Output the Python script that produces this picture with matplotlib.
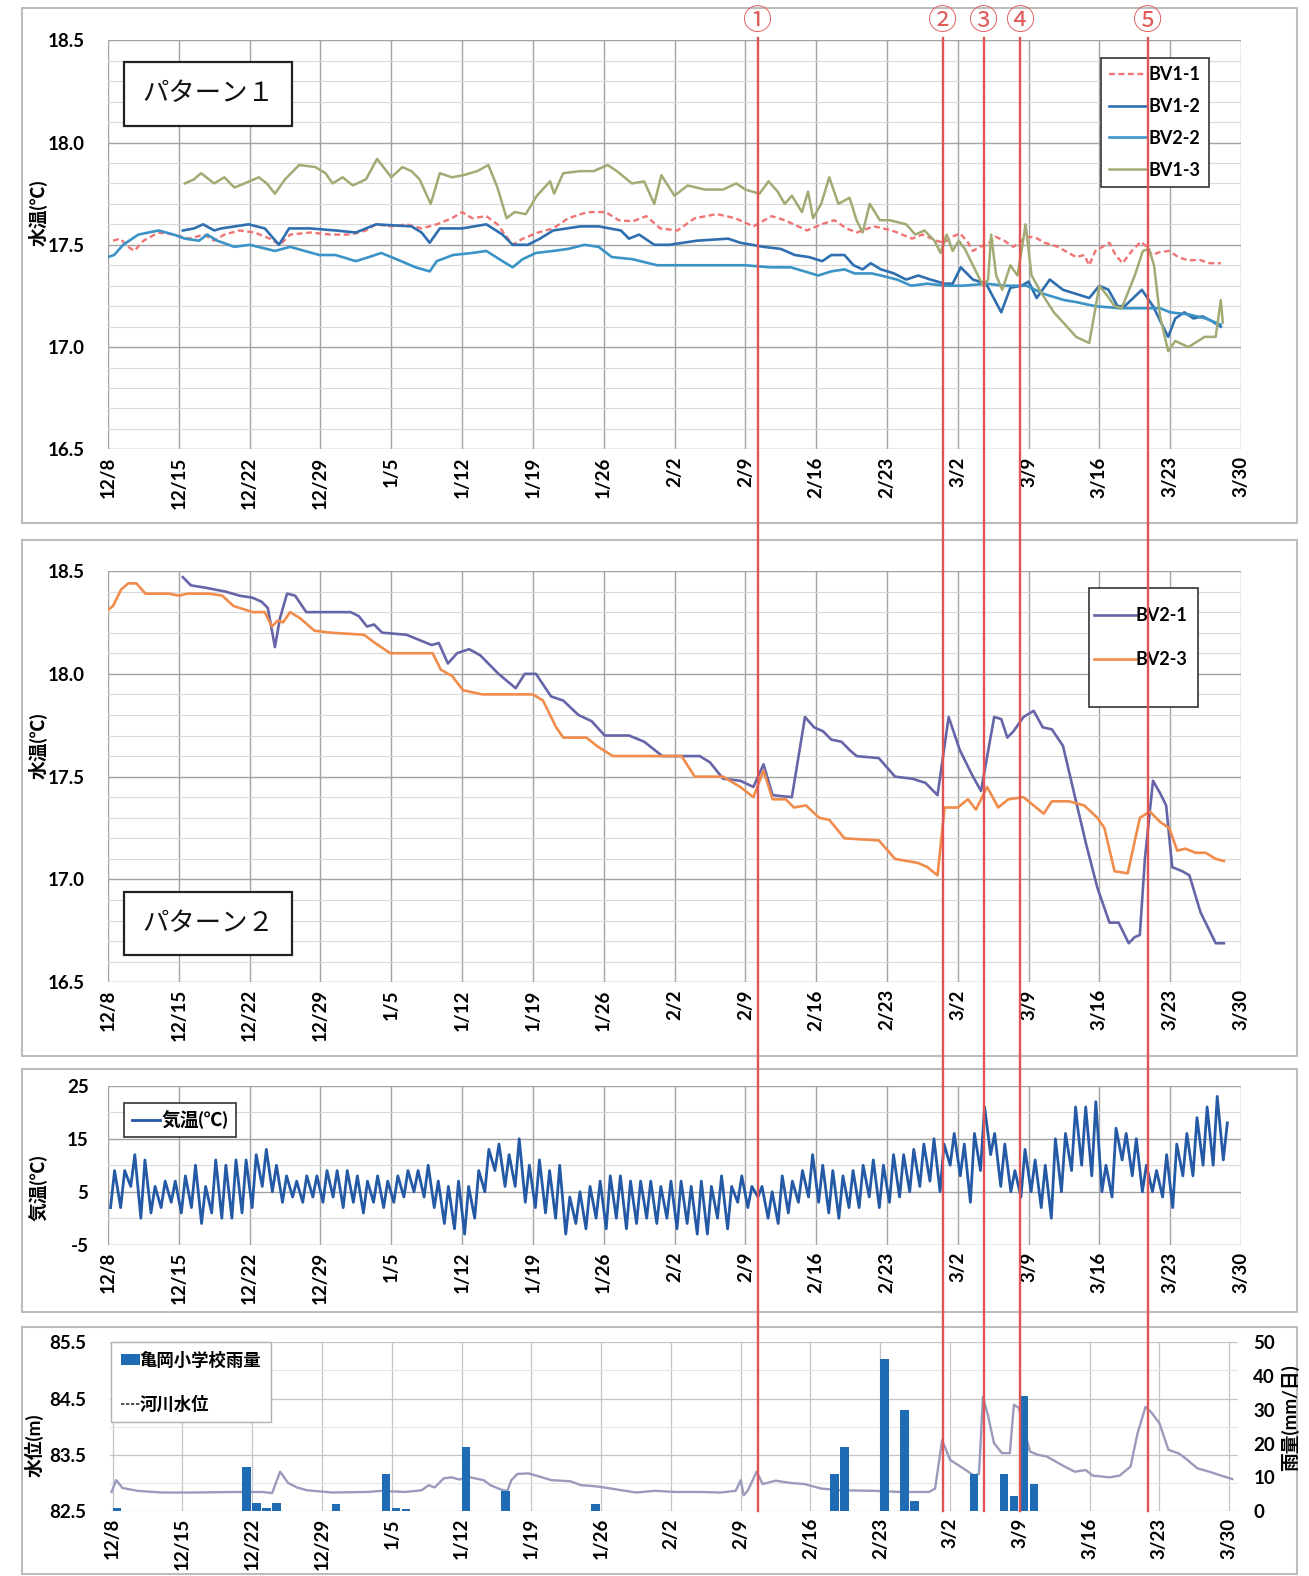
import numpy as np
import matplotlib
matplotlib.use('Agg')
import matplotlib.pyplot as plt
from matplotlib.patches import Rectangle, Patch
from matplotlib.lines import Line2D

plt.rcParams['font.family'] = ['Lato', 'Noto Sans CJK JP', 'DejaVu Sans']

# ---------------- data (x = days since 12/8) ----------------
date_labels = ['12/8', '12/15', '12/22', '12/29', '1/5', '1/12', '1/19', '1/26', '2/2',
               '2/9', '2/16', '2/23', '3/2', '3/9', '3/16', '3/23', '3/30']

bv11_days = [0.5, 1.2, 2.0, 2.6, 3.5, 5, 6.5, 8, 9.5, 10.5, 11.5, 13, 14.5, 16, 17, 18, 20, 22, 24,
             25.5, 26.5, 28, 29.5, 31, 32.5, 34, 35, 36, 37.4, 38.5, 40, 41, 42.5, 44, 45.5, 47.4,
             49.2, 50.5, 51.9, 53.2, 54.6, 56.3, 58, 60.2, 62, 63.8, 65.6, 66.9, 69.1, 70.5, 71.8,
             73, 74, 75.7, 77.5, 79.5, 80.5, 81.9, 82.6, 83.5, 84.2, 84.9, 85.5, 86.2, 87.3, 87.7,
             88.6, 89.5, 90.8, 91.7, 92.6, 93.9, 94.6, 95.7, 96.5, 97.0, 97.6, 98.3, 99.0, 99.6,
             100.3, 101.2, 102.1, 102.7, 103.2, 104.0, 104.9, 105.8, 106.7, 108.0, 108.9, 110.0]
bv11_vals = [17.52, 17.53, 17.49, 17.47, 17.52, 17.56, 17.55, 17.53, 17.55, 17.52, 17.55, 17.57,
             17.56, 17.53, 17.50, 17.55, 17.56, 17.55, 17.55, 17.57, 17.60, 17.59, 17.60, 17.58,
             17.60, 17.63, 17.66, 17.63, 17.64, 17.60, 17.50, 17.53, 17.56, 17.58, 17.63, 17.66,
             17.66, 17.62, 17.615, 17.64, 17.58, 17.57, 17.63, 17.65, 17.63, 17.59, 17.64, 17.62,
             17.57, 17.60, 17.62, 17.58, 17.56, 17.59, 17.57, 17.53, 17.55, 17.52, 17.51, 17.54,
             17.556, 17.52, 17.47, 17.49, 17.515, 17.54, 17.52, 17.49, 17.54, 17.535, 17.51, 17.49,
             17.47, 17.44, 17.45, 17.40, 17.47, 17.49, 17.51, 17.45, 17.41, 17.47, 17.515, 17.49,
             17.45, 17.465, 17.47, 17.44, 17.425, 17.425, 17.41, 17.41]

bv12_days = [7.4, 8.5, 9.4, 10.5, 11.2, 13.9, 15.5, 16.9, 17.9, 20, 22.5, 24.5, 25.5, 26.5, 30, 31,
             31.8, 32.8, 35, 37.4, 39, 40, 41.5, 42.7, 44, 46.7, 48.5, 50.7, 51.5, 52.5, 54, 55.5,
             58.2, 61.3, 62.5, 64.8, 66.5, 67.9, 69.3, 70.6, 71.5, 72.8, 73.7, 74.6, 75.4, 76.4,
             77.7, 78.9, 80.1, 81.3, 82.7, 83.5, 84.3, 85.5, 86.8, 88.3, 89.2, 90.3, 91.0, 91.8,
             93.1, 94.4, 95.7, 97.0, 98.0, 98.9, 99.8, 100.5, 102.2, 103.3, 104.8, 105.5, 106.4,
             107.3, 108.2, 109.0, 110.0]
bv12_vals = [17.57, 17.58, 17.60, 17.57, 17.58, 17.60, 17.58, 17.50, 17.58, 17.58, 17.57, 17.56,
             17.58, 17.60, 17.59, 17.56, 17.51, 17.58, 17.58, 17.60, 17.55, 17.50, 17.50, 17.53,
             17.57, 17.59, 17.59, 17.57, 17.53, 17.55, 17.50, 17.50, 17.52, 17.53, 17.51, 17.49,
             17.48, 17.45, 17.44, 17.42, 17.45, 17.45, 17.40, 17.38, 17.41, 17.38, 17.36, 17.33,
             17.35, 17.33, 17.31, 17.31, 17.39, 17.33, 17.31, 17.17, 17.29, 17.30, 17.32, 17.24,
             17.33, 17.28, 17.26, 17.24, 17.30, 17.28, 17.20, 17.20, 17.28, 17.20, 17.05, 17.14,
             17.17, 17.14, 17.15, 17.13, 17.10]

bv22_days = [0.0, 0.6, 1.5, 3.0, 5.0, 6.5, 7.6, 9, 9.8, 10.8, 12.5, 14, 16.5, 18, 20.9, 22.5, 24.5,
             25.8, 27, 28.5, 30.4, 31.8, 32.5, 34.1, 36, 37.4, 39, 40, 41, 42.3, 44, 45.5, 47.1, 48.5,
             49.8, 51.8, 54.3, 57, 60, 63, 65.5, 67.5, 70.2, 71.5, 72.8, 73.8, 75.5, 76.4, 78, 79.4,
             81, 82.7, 84.5, 86.9, 88.6, 90.8, 92.5, 94.5, 95.7, 97.6, 100, 102, 104, 105, 106.8,
             108.5, 110.0]
bv22_vals = [17.44, 17.45, 17.50, 17.55, 17.57, 17.55, 17.53, 17.52, 17.55, 17.52, 17.49, 17.50,
             17.47, 17.49, 17.45, 17.45, 17.42, 17.44, 17.46, 17.43, 17.39, 17.37, 17.42, 17.45,
             17.46, 17.47, 17.42, 17.39, 17.43, 17.46, 17.47, 17.48, 17.50, 17.49, 17.44, 17.43,
             17.40, 17.40, 17.40, 17.40, 17.39, 17.39, 17.35, 17.37, 17.38, 17.36, 17.36, 17.35,
             17.33, 17.30, 17.31, 17.30, 17.30, 17.31, 17.30, 17.30, 17.26, 17.23, 17.22, 17.20,
             17.19, 17.19, 17.19, 17.17, 17.16, 17.14, 17.11]

bv13_days = [7.6, 8.5, 9.2, 10.5, 11.5, 12.5, 13.5, 14.9, 15.7, 16.5, 17.5, 18.9, 20.5, 21.5, 22.2,
             23.2, 24.2, 25.5, 26.6, 28, 29.1, 30.0, 30.8, 31.9, 32.8, 34, 35.1, 36.5, 37.6, 38.5,
             39.4, 40.2, 41.3, 42.4, 43.7, 44.1, 45, 46.7, 48, 49.4, 50.3, 51.8, 53, 54, 54.7, 56,
             57.3, 59, 60.8, 62.1, 63, 64.4, 65.3, 66.2, 66.9, 67.6, 68.6, 69.2, 69.7, 70.5, 71.3,
             72.2, 73.3, 74.0, 74.6, 75.3, 76.3, 77.3, 78.9, 79.8, 80.7, 81.7, 82.3, 82.9, 83.5,
             84.1, 84.7, 85.5, 86.5, 87.0, 87.3, 87.8, 88.4, 89.2, 89.9, 90.4, 90.7, 91.3, 92.2,
             93.5, 94.8, 95.7, 97.0, 98.0, 98.8, 99.5, 100.2, 101.5, 102.3, 102.9, 103.4, 104.0,
             104.8, 105.5, 106.8, 108.4, 109.5, 110.0, 110.2]
bv13_vals = [17.80, 17.82, 17.85, 17.80, 17.83, 17.78, 17.80, 17.83, 17.80, 17.75, 17.82, 17.89,
             17.88, 17.85, 17.80, 17.83, 17.79, 17.82, 17.92, 17.83, 17.88, 17.86, 17.82, 17.70,
             17.85, 17.83, 17.84, 17.86, 17.89, 17.78, 17.63, 17.66, 17.65, 17.74, 17.81, 17.75,
             17.85, 17.86, 17.86, 17.89, 17.86, 17.80, 17.81, 17.70, 17.84, 17.74, 17.79, 17.77,
             17.77, 17.80, 17.77, 17.75, 17.81, 17.76, 17.70, 17.74, 17.66, 17.76, 17.63, 17.70,
             17.83, 17.70, 17.73, 17.62, 17.56, 17.70, 17.62, 17.62, 17.60, 17.55, 17.57, 17.52,
             17.46, 17.55, 17.47, 17.52, 17.48, 17.40, 17.30, 17.33, 17.55, 17.35, 17.28, 17.40,
             17.35, 17.50, 17.60, 17.35, 17.27, 17.17, 17.10, 17.05, 17.02, 17.30, 17.25, 17.20,
             17.19, 17.35, 17.47, 17.48, 17.40, 17.15, 16.98, 17.03, 17.00, 17.05, 17.05, 17.23,
             17.12]

bv21_days = [7.4, 8.2, 9.5, 11.6, 13, 14.3, 15.2, 15.8, 16.5, 17.0, 17.7, 18.5, 19.6, 21, 24, 24.8,
             25.6, 26.3, 27.1, 29.5, 31, 32, 32.7, 33.6, 34.5, 35.7, 36.8, 38.6, 40.3, 41.2, 42.3,
             43.8, 45, 46.5, 47.8, 49.1, 51.5, 53, 54.8, 56.5, 58.5, 59.5, 60.8, 62.5, 63.8, 64.8,
             65.7, 67.6, 68.9, 69.8, 70.7, 71.5, 72.5, 73.3, 74, 76.2, 77.8, 79.5, 80.8, 82.0, 83.1,
             84.2, 85.4, 86.3, 87.6, 88.3, 88.9, 89.5, 90.5, 91.5, 92.4, 93.3, 94.4, 95.5, 96.7,
             97.8, 99.0, 99.9, 100.9, 101.5, 102.0, 102.5, 103.3, 104.0, 104.6, 105.2, 106.2, 106.9,
             108.0, 109.5, 110.3]
bv21_vals = [18.47, 18.43, 18.42, 18.40, 18.38, 18.37, 18.35, 18.32, 18.13, 18.27, 18.39, 18.38,
             18.30, 18.30, 18.30, 18.28, 18.23, 18.24, 18.20, 18.19, 18.16, 18.14, 18.15, 18.05,
             18.10, 18.12, 18.09, 18.00, 17.93, 18.00, 18.00, 17.89, 17.87, 17.80, 17.77, 17.70,
             17.70, 17.67, 17.60, 17.60, 17.60, 17.57, 17.49, 17.48, 17.45, 17.56, 17.41, 17.40,
             17.79, 17.74, 17.72, 17.68, 17.67, 17.63, 17.60, 17.59, 17.50, 17.49, 17.47, 17.41,
             17.79, 17.63, 17.51, 17.43, 17.79, 17.78, 17.69, 17.72, 17.79, 17.82, 17.74, 17.73,
             17.65, 17.42, 17.17, 16.96, 16.79, 16.79, 16.69, 16.72, 16.73, 17.10, 17.48, 17.42,
             17.36, 17.06, 17.04, 17.02, 16.84, 16.69, 16.69]

bv23_days = [0.0, 0.5, 1.3, 2.0, 2.8, 3.7, 6, 7, 7.9, 10, 11.3, 12.4, 14.3, 15.5, 16.2, 16.8, 17.3,
             18.0, 19, 20.4, 22, 25.3, 26.4, 27.9, 32.1, 32.9, 34, 35.1, 37, 42, 43, 44.3, 45, 47.3,
             48.3, 49.9, 55, 56.7, 58, 60.8, 62.5, 63.8, 64.8, 65.7, 67.0, 67.8, 69.0, 70.3, 71.3,
             72.8, 76.2, 77.8, 80.1, 81, 82.0, 82.7, 84, 85.0, 85.8, 86.9, 88.0, 89.0, 90.5, 91.5,
             92.5, 93.3, 95, 96.5, 97.8, 98.5, 99.5, 100.8, 102.0, 103.0, 104.0, 104.9, 105.7,
             106.5, 107.5, 108.5, 109.5, 110.3]
bv23_vals = [18.31, 18.33, 18.41, 18.44, 18.44, 18.39, 18.39, 18.38, 18.39, 18.39, 18.38, 18.33,
             18.30, 18.30, 18.23, 18.26, 18.25, 18.30, 18.27, 18.21, 18.20, 18.19, 18.15, 18.10,
             18.10, 18.02, 17.99, 17.92, 17.90, 17.90, 17.87, 17.74, 17.69, 17.69, 17.65, 17.60,
             17.60, 17.60, 17.50, 17.50, 17.45, 17.40, 17.53, 17.39, 17.39, 17.35, 17.36, 17.30,
             17.29, 17.20, 17.19, 17.10, 17.08, 17.06, 17.02, 17.35, 17.35, 17.39, 17.34, 17.45,
             17.35, 17.39, 17.40, 17.36, 17.32, 17.38, 17.38, 17.36, 17.30, 17.25, 17.04, 17.03,
             17.30, 17.33, 17.28, 17.25, 17.14, 17.15, 17.13, 17.13, 17.10, 17.09]

# daily minimum / maximum air temperature, 12/8 .. 3/28
temp_min = [2, 2, 6, 0, 1, 2, 3, 1, 2, -1, 1, 0, 0, 1, 2, 6, 5, 3, 4, 3, 4, 3, 4, 2, 3, 1, 3, 2,
            3, 4, 5, 4, 2, -1, -2, -3, 0, 5, 9, 6, 6, 3, 2, 1, 0, -3, -1, -2, 0, -2, 0, -2, -1, 0,
            -1, 0, -2, -1, -3, -3, 0, -2, 3, 2, 4, 0, -1, 1, 3, 4, 3, 1, 0, 2, 2, 4, 2, 3, 4, 5,
            6, 7, 5, 10, 8, 3, 9, 12, 6, 5, 4, 5, 2, 0, 5, 9, 10, 8, 5, 4, 11, 8, 5, 5, 4, 2, 8,
            8, 10, 10, 11]
temp_max = [9, 9, 12, 11, 6, 7, 7, 8, 10, 6, 11, 10, 11, 11, 12, 13, 10, 8, 7, 8, 8, 9, 9, 9, 8,
            7, 8, 7, 8, 9, 9, 10, 7, 6, 7, 6, 9, 13, 14, 12, 15, 10, 11, 9, 10, 4, 5, 6, 7, 8, 8,
            7, 7, 7, 6, 7, 7, 6, 7, 6, 8, 6, 8, 6, 6, 5, 8, 7, 9, 12, 10, 9, 8, 9, 10, 11, 10, 12,
            12, 13, 14, 15, 14, 16, 14, 16, 21, 16, 14, 9, 13, 11, 10, 15, 16, 21, 21, 22, 10, 17,
            16, 15, 10, 9, 12, 14, 16, 19, 21, 23, 18]

level_days = [-0.1, 0.35, 1.0, 2.5, 4.9, 8, 12.7, 15, 16.0, 16.8, 17.6, 18.5, 19.5, 22, 25.6, 27,
              28, 29.4, 31, 31.7, 32.3, 33.2, 34, 34.8, 35.6, 36.4, 37.2, 37.9, 39, 39.6, 40.0,
              40.6, 41.7, 42.5, 44, 45.9, 47, 48.5, 50, 52.5, 54.4, 56.4, 59, 61, 62.5, 63.0, 63.3,
              63.7, 64.6, 65.2, 66.5, 68, 69.4, 71.1, 73, 76.3, 79, 81.9, 82.5, 83.2, 84, 85.4,
              86.4, 86.9, 87.3, 87.8, 88.4, 89.2, 90.0, 90.4, 90.9, 92, 92.8, 93.7, 95.5, 96.5,
              97.6, 98.3, 100, 101, 102.1, 102.8, 103.6, 104.2, 105, 105.9, 107, 107.8, 108.8,
              110, 111.2, 112.3]
level_vals = [82.84, 83.05, 82.91, 82.86, 82.83, 82.83, 82.84, 82.84, 82.82, 83.20, 83.00, 82.92,
              82.87, 82.83, 82.84, 82.86, 82.85, 82.84, 82.87, 82.96, 82.92, 83.08, 83.10, 83.06,
              83.11, 83.08, 83.05, 82.96, 82.88, 82.86, 83.05, 83.16, 83.17, 83.13, 83.05, 83.03,
              82.96, 82.94, 82.90, 82.83, 82.86, 82.84, 82.84, 82.83, 82.86, 83.05, 82.78, 82.86,
              83.20, 82.98, 83.04, 83.00, 82.98, 82.90, 82.87, 82.86, 82.84, 82.84, 82.90, 83.76,
              83.41, 83.25, 83.13, 83.16, 84.53, 84.20, 83.71, 83.53, 83.53, 84.39, 84.33, 83.56,
              83.50, 83.47, 83.29, 83.20, 83.23, 83.13, 83.10, 83.13, 83.29, 83.88, 84.35, 84.25,
              84.06, 83.59, 83.52, 83.41, 83.26, 83.20, 83.13, 83.07]

rain_days = [0, 13, 14, 15, 16, 22, 27, 28, 29, 35, 39, 48, 72, 73, 77, 79, 80, 86, 89, 90, 91, 92]
rain_mm = [1, 13, 2.5, 1, 2.5, 2, 11, 1, 0.5, 19, 6, 2, 11, 19, 45, 30, 3, 11, 11, 4.5, 34, 8]

event_days = [64.25, 82.5, 86.6, 90.2, 102.8]
event_marks = ['①', '②', '③', '④', '⑤']

# ---------------- figure ----------------
W, H = 1309, 1576
fig = plt.figure(figsize=(W / 100, H / 100), dpi=100)
fig.patch.set_facecolor('white')


def fx(px):
    return px / W


def fy(py):
    return 1 - py / H


def make_axes(x0, x1, ytop, ybot):
    return fig.add_axes([fx(x0), fy(ybot), (x1 - x0) / W, (ybot - ytop) / H])


def box_patch(x0, x1, t, b, ec, lw, z=5, fc='none'):
    return Rectangle((fx(x0), fy(b)), (x1 - x0) / W, (b - t) / H,
                     transform=fig.transFigure, fc=fc, ec=ec, lw=lw, zorder=z, clip_on=False)


tick_days = [7 * i for i in range(len(date_labels))]
GRID_MAJ = '#a3a3a3'
GRID_MIN = '#d9d9d9'
FS = 13.5


def style(ax, xlim, ylim, yticks, yminor, ypad, fmt='%.1f'):
    ax.set_xlim(*xlim)
    ax.set_ylim(*ylim)
    ax.set_xticks(tick_days)
    ax.set_xticklabels(date_labels, rotation=90, fontsize=FS, fontweight='bold')
    ax.set_yticks(yticks)
    ax.set_yticklabels([fmt % v for v in yticks], fontsize=FS, fontweight='bold')
    ax.set_yticks(yminor, minor=True)
    ax.grid(which='major', color=GRID_MAJ, lw=1.0)
    ax.grid(which='minor', axis='y', color=GRID_MIN, lw=0.8)
    ax.tick_params(which='both', length=0)
    ax.tick_params(axis='y', pad=ypad)
    ax.tick_params(axis='x', pad=5)
    for s in ax.spines.values():
        s.set_visible(False)
    ax.set_axisbelow(True)
    ax.patch.set_alpha(0)


# panel frames
for (t, b) in [(8, 523), (540, 1056), (1069, 1312), (1327, 1574)]:
    fig.add_artist(box_patch(22, 1297, t, b, '#bcbcbc', 1.5, z=-1))

LEG = dict(fancybox=False, framealpha=1, borderaxespad=0,
           bbox_transform=fig.transFigure, loc='upper left')

# ---- panel 1 ----
ax1 = make_axes(108, 1241, 40.2, 449.4)
style(ax1, (0, 112), (16.5, 18.5), [16.5, 17.0, 17.5, 18.0, 18.5],
      np.round(np.arange(16.5, 18.51, 0.1), 2), 17)
l11, = ax1.plot(bv11_days, bv11_vals, color='#f07474', lw=1.7, ls=(0, (2.5, 1.5)))
l12, = ax1.plot(bv12_days, bv12_vals, color='#2f6fb0', lw=1.9)
l22, = ax1.plot(bv22_days, bv22_vals, color='#3c93c6', lw=1.9)
l13, = ax1.plot(bv13_days, bv13_vals, color='#a2ab74', lw=1.8)
leg = ax1.legend([l11, l12, l22, l13], ['BV1-1', 'BV1-2', 'BV2-2', 'BV1-3'],
                 bbox_to_anchor=(fx(1101), fy(58)), handlelength=2.1, handletextpad=0.1,
                 labelspacing=0.82, borderpad=0.45, edgecolor='#333333',
                 prop=dict(weight='bold', size=13), **LEG)
leg.get_frame().set_linewidth(1.2)

# ---- panel 2 ----
ax2 = make_axes(108, 1241, 571, 982.3)
style(ax2, (0, 112), (16.5, 18.5), [16.5, 17.0, 17.5, 18.0, 18.5],
      np.round(np.arange(16.5, 18.51, 0.1), 2), 17)
l21, = ax2.plot(bv21_days, bv21_vals, color='#6565a8', lw=1.9)
l23, = ax2.plot(bv23_days, bv23_vals, color='#f08c4c', lw=1.9)
ax2.add_patch(box_patch(1089, 1198, 588, 707, '#333333', 1.2, z=4, fc='white'))
leg = ax2.legend([l21, l23], ['BV2-1', 'BV2-3'], bbox_to_anchor=(fx(1094), fy(607)),
                 handlelength=2.3, handletextpad=0.0, labelspacing=1.5, borderpad=0.0,
                 frameon=False, prop=dict(weight='bold', size=13),
                 loc='upper left', borderaxespad=0, bbox_transform=fig.transFigure)
leg.set_zorder(6)

# ---- panel 3 ----
ax3 = make_axes(108, 1241, 1085.8, 1244.7)
style(ax3, (0, 112), (-5, 25), [-5, 5, 15, 25], [0, 10, 20], 14, fmt='%d')
tmin = np.array(temp_min, float)
tmax = np.array(temp_max, float)
days = np.arange(len(tmin))
tx = np.column_stack([days + 0.25, days + 0.65]).ravel()
ty = np.column_stack([tmin, tmax]).ravel()
lt, = ax3.plot(tx, ty, color='#2459a6', lw=2.0)
leg = ax3.legend([lt], ['気温(℃)'], bbox_to_anchor=(fx(124), fy(1103)), handlelength=1.5,
                 handletextpad=0.1, borderpad=0.4, edgecolor='#333333',
                 prop=dict(weight='bold', size=13.5), **LEG)
leg.get_frame().set_linewidth(1.2)

# ---- panel 4 ----
ax4 = make_axes(110, 1238, 1342.2, 1511.1)
style(ax4, (-0.26, 112.88), (82.5, 85.5), [82.5, 83.5, 84.5, 85.5], [83.0, 84.0, 85.0], 17)
ax4.grid(which='major', color='#c4c4c4', lw=0.9)
ax4.grid(which='minor', axis='y', color='#e6e6e6', lw=0.8)
ax4.plot(level_days, level_vals, color='#9a9abd', lw=1.7)
ax4r = ax4.twinx()
ax4r.set_ylim(0, 50)
ax4r.set_yticks(range(0, 51, 10))
ax4r.set_yticklabels([str(v) for v in range(0, 51, 10)], fontsize=FS, fontweight='bold')
ax4r.tick_params(length=0, pad=11)
for s in ax4r.spines.values():
    s.set_visible(False)
rain_color = '#1f6cb4'
ax4r.bar(rain_days, rain_mm, width=0.85, align='edge', color=rain_color)
leg = ax4r.legend([Patch(facecolor=rain_color),
                   Line2D([], [], color='#333333', ls=(0, (2, 1)), lw=1.2)],
                  ['亀岡小学校雨量', '河川水位'], bbox_to_anchor=(fx(111), fy(1342)),
                  handlelength=1.1, handleheight=0.55, handletextpad=0.0, labelspacing=1.55,
                  borderpad=0.55, edgecolor='#b0b0b0',
                  prop=dict(weight='bold', size=12.5), **LEG)
leg.get_frame().set_linewidth(1.0)

# ---- axis titles ----
lab = dict(rotation=90, ha='center', va='center', fontsize=FS, fontweight='bold')
fig.text(fx(38), fy(213), '水温(℃)', **lab)
fig.text(fx(38), fy(746), '水温(℃)', **lab)
fig.text(fx(38), fy(1188), '気温(℃)', **lab)
fig.text(fx(34), fy(1445), '水位(m)', **lab)
fig.text(fx(1290), fy(1418), '雨量(mm/日)', **lab)

# ---- pattern boxes ----
for (t, b, s) in [(62, 126, 'パターン１'), (892, 955, 'パターン２')]:
    fig.add_artist(box_patch(124, 292, t, b, '#222222', 1.6, z=5, fc='white'))
    fig.text(fx(208), fy((t + b) / 2), s, ha='center', va='center', fontsize=19,
             family=['Noto Sans CJK JP'], color='#111111', zorder=6)

# ---- event lines across all panels ----
inv = fig.transFigure.inverted()
for d, m in zip(event_days, event_marks):
    xd = ax1.transData.transform((d, 17.0))[0]
    xf = inv.transform((xd, 0))[0]
    fig.add_artist(Line2D([xf, xf], [fy(38), fy(1511)], transform=fig.transFigure,
                          color='#e05454', lw=1.7, zorder=10))
    fig.text(xf, fy(22), m, ha='center', va='center', fontsize=21, color='#e05a5a',
             family=['Noto Sans CJK JP'], zorder=11)

fig.savefig('out.png', dpi=100)
